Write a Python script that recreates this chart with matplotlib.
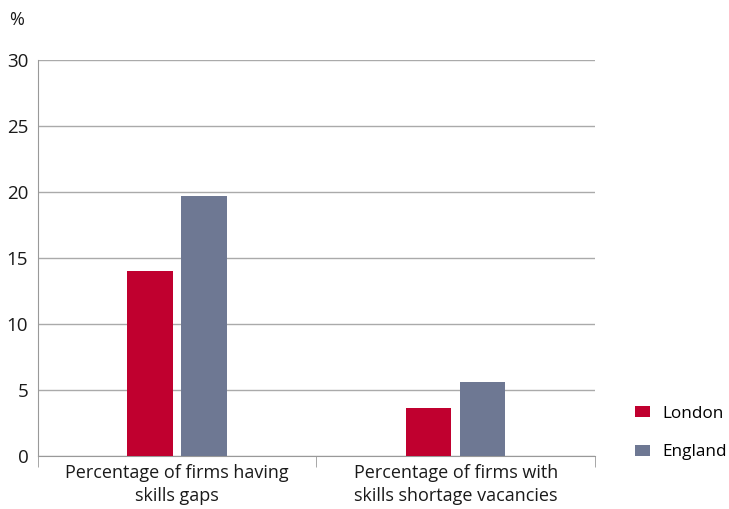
import matplotlib
matplotlib.use("Agg")
import matplotlib.pyplot as plt
import numpy as np

plt.rcParams['font.family'] = ['Open Sans', 'DejaVu Sans']

categories = ["Percentage of firms having\nskills gaps",
              "Percentage of firms with\nskills shortage vacancies"]
london = [14.0, 3.6]
england = [19.7, 5.6]
series_names = ["London", "England"]
colors = ["#C0002F", "#6E7893"]

fig = plt.figure(figsize=(7.29, 5.09), dpi=100)
ax = fig.add_axes([0.0521, 0.1041, 0.7641, 0.778])

x = np.arange(len(categories))
w = 0.162
ax.bar(x - 0.098, london, width=w, color=colors[0], label=series_names[0], zorder=3)
ax.bar(x + 0.096, england, width=w, color=colors[1], label=series_names[1], zorder=3)

ax.set_xlim(-0.5, 1.5)
ax.set_ylim(0, 30)
ax.set_yticks(range(0, 31, 5))
ax.yaxis.grid(True, color="#AAAAAA", linewidth=1.0, zorder=0)
ax.set_axisbelow(True)

ax.set_xticks(x)
ax.set_xticklabels(categories, fontsize=13, color="#1a1a1a", linespacing=1.3)
ax.set_xticks([-0.5, 0.5, 1.5], minor=True)
ax.tick_params(axis='x', which='major', length=0, pad=6)
ax.tick_params(axis='x', which='minor', length=8, color="#999999", direction='out')
ax.tick_params(axis='y', length=0, labelsize=13.5, labelcolor="#1a1a1a", pad=7)

for s in ["top", "right"]:
    ax.spines[s].set_visible(False)
ax.spines["left"].set_color("#999999")
ax.spines["bottom"].set_color("#999999")

fig.text(0.013, 0.96, "%", fontsize=13, color="#1a1a1a", va="center")

ax.legend(loc="center left", bbox_to_anchor=(1.051, 0.058), frameon=False,
          fontsize=12.3, handlelength=0.88, handleheight=0.6, labelspacing=1.3,
          handletextpad=0.7, borderaxespad=0.3)

fig.savefig("out.png", dpi=100)
